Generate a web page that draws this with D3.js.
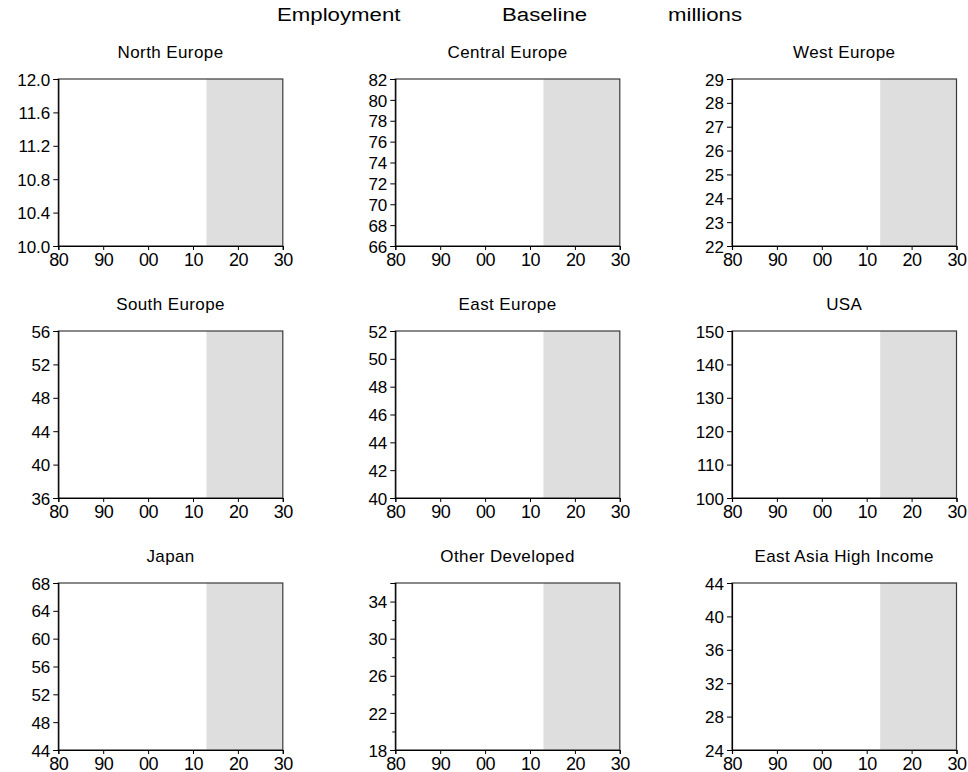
<!DOCTYPE html>
<html>
<head>
<meta charset="utf-8">
<script src="https://cdn.jsdelivr.net/npm/d3@7"></script>
<style>
  html, body { margin: 0; padding: 0; background: #fff; }
  svg { display: block; font-family: "Liberation Sans", Arial, sans-serif; }
</style>
</head>
<body>
<svg id="chart" width="968" height="772"></svg>
<script>
// Headline words
const titleWords = ["Employment", "Baseline", "millions"];
const titleWordX = [277, 502, 668];

// Regions, one panel each (row-major, three per row)
const regions = [
  "North Europe", "Central Europe", "West Europe",
  "South Europe", "East Europe", "USA",
  "Japan", "Other Developed", "East Asia High Income"
];

// Vertical axis ranges (millions of employed)
const yMin = [10.0, 66, 22, 36, 40, 100, 44, 18, 24];
const yMax = [12.0, 82, 29, 56, 52, 150, 68, 36, 44];

// Labelled vertical ticks
const yTicks = [
  [10.0, 10.4, 10.8, 11.2, 11.6, 12.0],
  [66, 68, 70, 72, 74, 76, 78, 80, 82],
  [22, 23, 24, 25, 26, 27, 28, 29],
  [36, 40, 44, 48, 52, 56],
  [40, 42, 44, 46, 48, 50, 52],
  [100, 110, 120, 130, 140, 150],
  [44, 48, 52, 56, 60, 64, 68],
  [18, 22, 26, 30, 34],
  [24, 28, 32, 36, 40, 44]
];
// Unlabelled minor ticks
const yMinorTicks = [[], [], [], [], [], [], [], [20, 24, 28, 32], []];
const yTickFormat = [".1f", "d", "d", "d", "d", "d", "d", "d", "d"];

// Time axis (years) and its labels
const yearStart = 1980, yearEnd = 2030;
const xTicks = [1980, 1990, 2000, 2010, 2020, 2030];
const xTickLabels = ["80", "90", "00", "10", "20", "30"];

// Projection period shaded in grey
const shadeStart = 2013, shadeEnd = 2030;

const svg = d3.select("#chart");

// Headline, set in a slightly widened face
svg.selectAll("text.headline")
  .data(titleWords)
  .join("text")
  .attr("class", "headline")
  .attr("transform", (d, i) => `translate(${titleWordX[i]},21) scale(1.17,1)`)
  .attr("font-size", 19)
  .attr("fill", "#000")
  .text(d => d);

// Panel layout
const panelW = 224.5, panelH = 167;
const colX = [58.3, 395.3, 732];
const rowY = [79, 331, 583];

const x = d3.scaleLinear().domain([yearStart, yearEnd]).range([0, panelW]);

regions.forEach((name, i) => {
  const left = colX[i % 3], top = rowY[Math.floor(i / 3)];
  const g = svg.append("g").attr("transform", `translate(${left},${top})`);
  const y = d3.scaleLinear().domain([yMin[i], yMax[i]]).range([panelH, 0]);

  // Shaded projection period
  g.append("rect")
    .attr("x", x(shadeStart))
    .attr("y", 0)
    .attr("width", x(shadeEnd) - x(shadeStart))
    .attr("height", panelH)
    .attr("fill", "#dedede");

  // Frame
  g.append("rect")
    .attr("x", 0).attr("y", 0)
    .attr("width", panelW).attr("height", panelH)
    .attr("fill", "none")
    .attr("stroke", "#3a3a3a")
    .attr("stroke-width", 1.2);

  // Panel title
  g.append("text")
    .attr("x", panelW / 2)
    .attr("y", -20.7)
    .attr("text-anchor", "middle")
    .attr("font-size", 17)
    .attr("letter-spacing", "0.4px")
    .attr("fill", "#000")
    .text(name);

  // Left axis
  const yAxis = d3.axisLeft(y)
    .tickValues(yTicks[i])
    .tickFormat(d3.format(yTickFormat[i]))
    .tickSize(5)
    .tickPadding(3);
  const ya = g.append("g").call(yAxis);
  ya.select(".domain").attr("stroke", "#000").attr("stroke-width", 1.2);
  ya.selectAll(".tick line").attr("stroke", "#000");
  ya.selectAll(".tick text")
    .attr("font-size", 17)
    .attr("font-family", "Liberation Sans, Arial, sans-serif")
    .attr("fill", "#000")
    .attr("dy", "0.36em");

  if (yMinorTicks[i].length) {
    const minor = d3.axisLeft(y).tickValues(yMinorTicks[i]).tickSize(3).tickFormat("");
    const ma = g.append("g").call(minor);
    ma.select(".domain").remove();
    ma.selectAll(".tick line").attr("stroke", "#000");
  }

  // Bottom axis
  const xAxis = d3.axisBottom(x)
    .tickValues(xTicks)
    .tickFormat((d, k) => xTickLabels[k])
    .tickSize(4)
    .tickPadding(2);
  const xa = g.append("g").attr("transform", `translate(0,${panelH})`).call(xAxis);
  xa.select(".domain").attr("stroke", "#000").attr("stroke-width", 1.2);
  xa.selectAll(".tick line").attr("stroke", "#000");
  xa.selectAll(".tick text")
    .attr("font-size", 18)
    .attr("letter-spacing", "-0.5px")
    .attr("font-family", "Liberation Sans, Arial, sans-serif")
    .attr("fill", "#000")
    .attr("dy", null)
    .attr("y", 19.5);
});
</script>
</body>
</html>
